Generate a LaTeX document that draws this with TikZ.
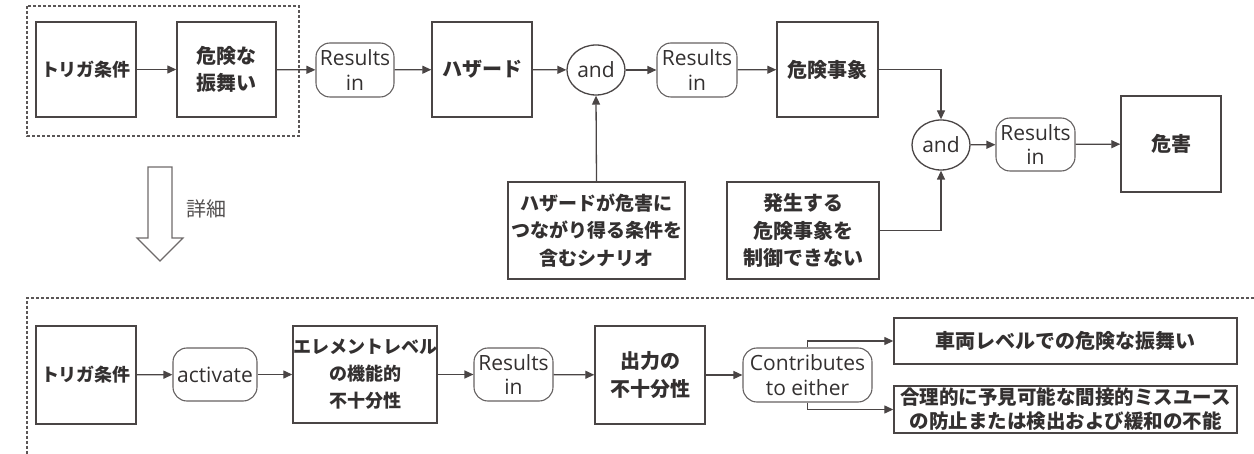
\documentclass[tikz,border=0pt]{standalone}
\usepackage{fontspec}
\newfontfamily\jpf{Noto Sans CJK JP}
\newfontfamily\enf{Open Sans}
\usetikzlibrary{arrows.meta,shapes.geometric}
\definecolor{ln}{HTML}{4A4545}
\definecolor{tx}{HTML}{333030}
\definecolor{dsh}{HTML}{5A5656}
\newcommand\jpsize[2]{\jpf\bfseries\fontsize{#1}{#2}\selectfont}
\tikzset{
  box/.style={draw=ln,line width=1.4pt,rectangle,align=center,inner sep=0pt,text=tx,
    font=\jpsize{20}{27.5}},
  rel/.style={draw=ln!85,line width=1.1pt,rectangle,rounded corners=14pt,align=center,inner sep=0pt,text=tx,
    font=\enf\fontsize{21}{24.5}\selectfont},
  andnode/.style={draw=ln,line width=1.3pt,ellipse,inner sep=0pt,minimum width=58pt,minimum height=50pt,text=tx,
    font=\enf\fontsize{21}{24}\selectfont},
  conn/.style={draw=ln,line width=1.3pt,-{Triangle[length=9pt,width=8pt]}},
  frame/.style={draw=dsh,line width=1.2pt,dash pattern=on 3pt off 2pt},
}
\begin{document}
\begin{tikzpicture}[x=1pt,y=-1pt]
\useasboundingbox (0,0) rectangle (1254,454);
% top dashed frame
\draw[frame] (27,6) rectangle (299,136);
% bottom open frame
\draw[frame] (1254,298) -- (27,298) -- (27,454);
% top row
\node[box,minimum width=100pt,minimum height=95pt,font=\jpsize{18}{24}] (trig1) at (86,69.5) {トリガ条件};
\node[box,minimum width=99pt,minimum height=95pt] (beh) at (226.5,69.5) {危険な\\振舞い};
\node[rel,minimum width=78pt,minimum height=54pt] (res1) at (355,70) {Results\\in};
\node[box,minimum width=100pt,minimum height=95pt] (haz) at (482,69.5) {ハザード};
\node[andnode] (and1) at (596,70) {and};
\node[rel,minimum width=80pt,minimum height=54pt] (res2) at (697,70) {Results\\in};
\node[box,minimum width=101pt,minimum height=95pt] (he) at (827.5,69.5) {危険事象};
\node[andnode] (and2) at (941,145) {and};
\node[rel,minimum width=79pt,minimum height=53pt] (res3) at (1035.5,144.5) {Results\\in};
\node[box,minimum width=100pt,minimum height=96pt] (harm) at (1171,144) {危害};
\node[box,minimum width=177pt,minimum height=97pt,font=\jpsize{19}{27.5}] (scen) at (596.5,230.5) {ハザードが危害に\\つながり得る条件を\\含むシナリオ};
\node[box,minimum width=152pt,minimum height=97pt] (ctrl) at (803,230.5) {発生する\\危険事象を\\制御できない};
% detail arrow
\draw[draw=ln!80,line width=1.1pt,line join=miter] (148,167) -- (172,167) -- (172,238) -- (183,238) -- (160,261) -- (137,238) -- (148,238) -- cycle;
\node[text=tx!85,font=\jpf\fontsize{20}{24}\selectfont,anchor=west,inner sep=0pt] (det) at (186,209) {詳細};
% bottom row
\node[box,minimum width=100pt,minimum height=98pt,font=\jpsize{18}{24}] (trig2) at (86,375) {トリガ条件};
\node[rel,minimum width=84pt,minimum height=53pt] (act) at (215,374.5) {activate};
\node[box,minimum width=144pt,minimum height=97pt,font=\jpsize{18}{27}] (elem) at (365,374.5) {エレメントレベル\\の機能的\\不十分性};
\node[rel,minimum width=79pt,minimum height=53pt] (res4) at (513.5,374.5) {Results\\in};
\node[box,minimum width=110pt,minimum height=98pt] (out) at (650,375) {出力の\\不十分性};
\node[rel,minimum width=129pt,minimum height=54pt] (contr) at (807.5,375) {Contributes\\to either};
\node[box,minimum width=343pt,minimum height=46pt] (veh) at (1065.5,341) {車両レベルでの危険な振舞い};
\node[box,minimum width=343pt,minimum height=47pt,font=\jpsize{19.5}{24}] (mis) at (1065.5,409.5) {合理的に予見可能な間接的ミスユース\\の防止または検出および緩和の不能};
% connectors top
\draw[conn] (trig1) -- (beh);
\draw[conn] (beh) -- (res1);
\draw[conn] (res1) -- (haz);
\draw[conn] (haz) -- (and1);
\draw[conn] (and1) -- (res2);
\draw[conn] (res2) -- (he);
\draw[conn] (he.east) -| (and2.north);
\draw[conn] (ctrl.east) -| (and2.south);
\draw[conn] (and2) -- (res3);
\draw[conn] (res3) -- (harm);
\draw[conn] (scen.north) -- (and1.south);
% connectors bottom
\draw[conn] (trig2) -- (act);
\draw[conn] (act) -- (elem);
\draw[conn] (elem) -- (res4);
\draw[conn] (res4) -- (out);
\draw[conn] (out) -- (contr);
\draw[conn] (contr.north) |- (veh.west);
\draw[conn] (contr.south) |- (mis.west);
\end{tikzpicture}
\end{document}
